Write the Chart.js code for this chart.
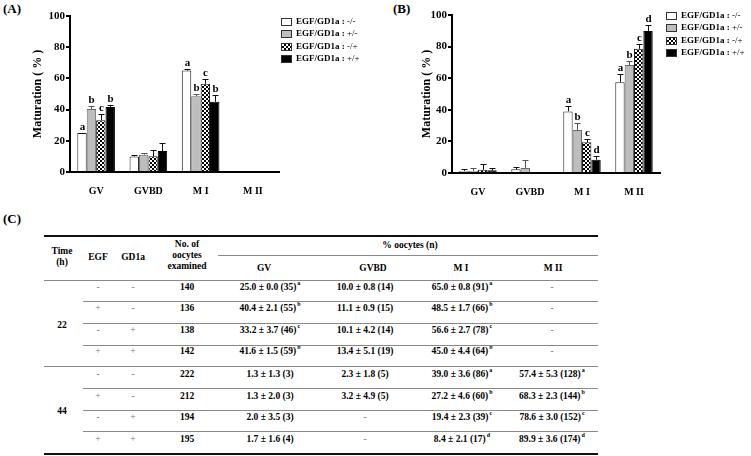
<!DOCTYPE html>
<html>
<head>
<meta charset="utf-8">
<script src="https://cdn.jsdelivr.net/npm/chart.js@4.4.1/dist/chart.umd.min.js"></script>
<style>
  body { margin: 0; background: #fff; width: 751px; height: 456px; position: relative; overflow: hidden;
         font-family: "Liberation Serif", "Times New Roman", serif; }
  .box { position: absolute; }
  .lbl { position: absolute; font-weight: bold; font-size: 13px; }
  .t { position: absolute; font-weight: bold; font-size: 9.5px; white-space: nowrap; transform: translate(-50%, -50%); line-height: 1; }
  .sg { font-weight: normal; color: #777; }
  .t sup { font-size: 6px; vertical-align: top; position: relative; top: -3px; margin-left: 1px; }
  .rule { position: absolute; height: 1px; background: #8a8a8a; }
  .thick { height: 2px; background: #111; }
</style>
</head>
<body>
<div class="lbl" style="left:3px;top:1px">(A)</div>
<div class="lbl" style="left:393px;top:1px">(B)</div>
<div class="lbl" style="left:3px;top:211px">(C)</div>
<div class="box" style="left:0;top:0;width:380px;height:195px"><canvas id="chartA"></canvas></div>
<div class="box" style="left:375px;top:0;width:376px;height:195px"><canvas id="chartB"></canvas></div>
<div id="tbl"></div>
<script>
const stages = ['GV', 'GVBD', 'M I', 'M II'];
const groups = ['-/-', '+/-', '-/+', '+/+'];
const egfSign = ['-', '+', '-', '+'];
const gd1aSign = ['-', '-', '+', '+'];
const times = ['22', '44'];
const examined22 = [140, 136, 138, 142];
const examined44 = [222, 212, 194, 195];

// rows = EGF/GD1a group, columns = stage
const mean22 = [[25.0, 10.0, 65.0, null], [40.4, 11.1, 48.5, null], [33.2, 10.1, 56.6, null], [41.6, 13.4, 45.0, null]];
const sd22 = [[0.0, 0.8, 0.8, null], [2.1, 0.9, 1.7, null], [3.7, 4.2, 2.7, null], [1.5, 5.1, 4.4, null]];
const n22 = [[35, 14, 91, null], [55, 15, 66, null], [46, 14, 78, null], [59, 19, 64, null]];
const sig22 = [['a', '', 'a', ''], ['b', '', 'b', ''], ['c', '', 'c', ''], ['b', '', 'b', '']];

const mean44 = [[1.3, 2.3, 39.0, 57.4], [1.3, 3.2, 27.2, 68.3], [2.0, null, 19.4, 78.6], [1.7, null, 8.4, 89.9]];
const sd44 = [[1.3, 1.8, 3.6, 5.3], [2.0, 4.9, 4.6, 2.3], [3.5, null, 2.3, 3.0], [1.6, null, 2.1, 3.6]];
const n44 = [[3, 5, 86, 128], [3, 5, 60, 144], [3, null, 39, 152], [4, null, 17, 174]];
const sig44 = [['', '', 'a', 'a'], ['', '', 'b', 'b'], ['', '', 'c', 'c'], ['', '', 'd', 'd']];

const yTicks = [0, 20, 40, 60, 80, 100];

const serif = '"Liberation Serif", "Times New Roman", serif';

// checker fill for the -/+ bars
const pc = document.createElement('canvas');
pc.width = 4; pc.height = 4;
const pctx = pc.getContext('2d');
pctx.fillStyle = '#fff'; pctx.fillRect(0, 0, 4, 4);
pctx.fillStyle = '#000'; pctx.fillRect(0, 0, 2, 2); pctx.fillRect(2, 2, 2, 2);
const checker = pctx.createPattern(pc, 'repeat');

const fills = ['#ffffff', '#bdbdbd', checker, '#000000'];
const edges = ['#222222', '#6a6a6a', '#222222', '#000000'];

const errorBars = {
  id: 'errorBars',
  afterDatasetsDraw(chart, args, o) {
    const ctx = chart.ctx, y = chart.scales.y;
    chart.data.datasets.forEach((ds, i) => {
      chart.getDatasetMeta(i).data.forEach((bar, j) => {
        const v = ds.data[j];
        if (v == null) return;
        const x = Math.round(bar.x) + 0.5;
        const top = Math.round(y.getPixelForValue(v + o.sd[i][j])) + 0.5;
        ctx.save();
        ctx.strokeStyle = i == 1 ? '#555' : '#111';
        ctx.lineWidth = 1;
        ctx.beginPath();
        ctx.moveTo(x, bar.y); ctx.lineTo(x, top);
        ctx.moveTo(x - 3, top); ctx.lineTo(x + 3, top);
        ctx.stroke();
        const s = o.sig[i][j];
        if (s) {
          ctx.fillStyle = '#000';
          ctx.font = 'bold 11px ' + serif;
          ctx.textAlign = 'center';
          ctx.textBaseline = 'bottom';
          ctx.fillText(s, x, top - 1);
        }
        ctx.restore();
      });
    });
  }
};

const sideLegend = {
  id: 'sideLegend',
  afterDraw(chart, args, o) {
    const ctx = chart.ctx;
    ctx.save();
    chart.data.datasets.forEach((ds, i) => {
      const y = Math.round(o.y + i * o.step);
      ctx.fillStyle = ds.backgroundColor;
      ctx.fillRect(o.x, y - 4, 11, 8);
      ctx.strokeStyle = '#333';
      ctx.lineWidth = 1;
      ctx.strokeRect(o.x + 0.5, y - 3.5, 10, 7);
      ctx.fillStyle = '#000';
      ctx.textBaseline = 'middle';
      ctx.textAlign = 'left';
      ctx.font = 'bold 9px ' + serif;
      const pre = 'EGF/GD1a : ';
      ctx.fillText(pre, o.x + 15, y);
      const w = ctx.measureText(pre).width;
      ctx.font = '9px ' + serif;
      ctx.fillText(groups[i], o.x + 15 + w, y);
    });
    ctx.restore();
  }
};

function makeChart(id, means, sds, sigs, pad, yWidth, xHeight, legend) {
  return new Chart(document.getElementById(id), {
    type: 'bar',
    data: {
      labels: stages,
      datasets: groups.map((g, i) => ({
        label: 'EGF/GD1a : ' + g,
        data: means[i],
        backgroundColor: fills[i],
        borderColor: edges[i],
        borderWidth: 1,
        categoryPercentage: 0.72,
        barPercentage: 1.0
      }))
    },
    options: {
      responsive: true,
      maintainAspectRatio: false,
      animation: false,
      layout: { padding: pad },
      plugins: {
        legend: { display: false },
        tooltip: { enabled: false },
        errorBars: { sd: sds, sig: sigs },
        sideLegend: legend
      },
      scales: {
        x: {
          grid: { display: false },
          border: { color: '#000', width: 2 },
          ticks: { color: '#000', padding: 5, font: { family: serif, size: 10, weight: 'bold' } },
          afterFit(s) { s.height = xHeight; }
        },
        y: {
          min: 0, max: 100,
          afterBuildTicks(s) { s.ticks = yTicks.map(v => ({ value: v })); },
          grid: { drawOnChartArea: false, drawTicks: true, tickLength: 4, color: '#000', lineWidth: 2 },
          border: { color: '#000', width: 2 },
          ticks: { color: '#000', padding: 1, font: { family: serif, size: 11, weight: 'bold' } },
          title: { display: true, text: 'Maturation ( % )', color: '#000', padding: 0,
                   font: { family: serif, size: 12, weight: 'bold' } },
          afterFit(s) { s.width = yWidth; }
        }
      }
    },
    plugins: [errorBars, sideLegend]
  });
}

makeChart('chartA', mean22, sd22, sig22, { left: 31, top: 16, right: 101, bottom: 0 }, 39, 23, { x: 281, y: 22, step: 12.3 });
makeChart('chartB', mean44, sd44, sig44, { left: 45, top: 15, right: 91, bottom: 0 }, 32, 22, { x: 291, y: 16, step: 12.3 });

// table (C)
const tbl = document.getElementById('tbl');
function txt(x, y, html, cls) {
  const d = document.createElement('div');
  d.className = 't' + (cls ? ' ' + cls : '');
  d.style.left = x + 'px'; d.style.top = y + 'px';
  d.innerHTML = html;
  tbl.appendChild(d);
}
function rule(x1, x2, y, cls) {
  const d = document.createElement('div');
  d.className = 'rule' + (cls ? ' ' + cls : '');
  d.style.left = x1 + 'px'; d.style.top = y + 'px'; d.style.width = (x2 - x1) + 'px';
  tbl.appendChild(d);
}
const tL = 44, tR = 598;
const colX = { time: 62, egf: 98, gd1a: 133, num: 187 };
const stageHeadX = [264, 373, 461, 553];
const stageX = [270, 365, 462, 552];
const rowY = [288, 309, 331, 352, 375, 397, 418, 440];
const ruleY = [301, 323, 345, 366, 388, 410, 431];

rule(tL, tR, 235, 'thick');
rule(218, tR, 255);
rule(tL, tR, 280);
rule(tL, tR, 453, 'thick');
txt(colX.time, 252, 'Time');
txt(colX.time, 263, '(h)');
txt(colX.egf, 258, 'EGF');
txt(colX.gd1a, 258, 'GD1a');
txt(colX.num, 245, 'No. of');
txt(colX.num, 256, 'oocytes');
txt(colX.num, 267, 'examined');
txt(410, 246, '% oocytes (n)');
stages.forEach((s, k) => txt(stageHeadX[k], 269, s));

const blocks = [
  { time: times[0], num: examined22, mean: mean22, sd: sd22, n: n22, sig: sig22, y: 326 },
  { time: times[1], num: examined44, mean: mean44, sd: sd44, n: n44, sig: sig44, y: 412 }
];
blocks.forEach((b, bi) => {
  txt(colX.time, b.y, b.time);
  groups.forEach((g, i) => {
    const r = bi * 4 + i;
    const y = rowY[r];
    txt(colX.egf, y, egfSign[i], 'sg');
    txt(colX.gd1a, y, gd1aSign[i], 'sg');
    txt(colX.num, y, b.num[i]);
    stages.forEach((s, k) => {
      const m = b.mean[i][k];
      if (m == null) { txt(stageX[k], y, '-', 'sg'); return; }
      let h = m.toFixed(1) + ' ± ' + b.sd[i][k].toFixed(1) + ' (' + b.n[i][k] + ')';
      if (b.sig[i][k]) h += '<sup>' + b.sig[i][k] + '</sup>';
      txt(stageX[k], y, h);
    });
  });
});
ruleY.forEach((y, k) => rule(k == 3 ? tL : 83, tR, y));
</script>
</body>
</html>
